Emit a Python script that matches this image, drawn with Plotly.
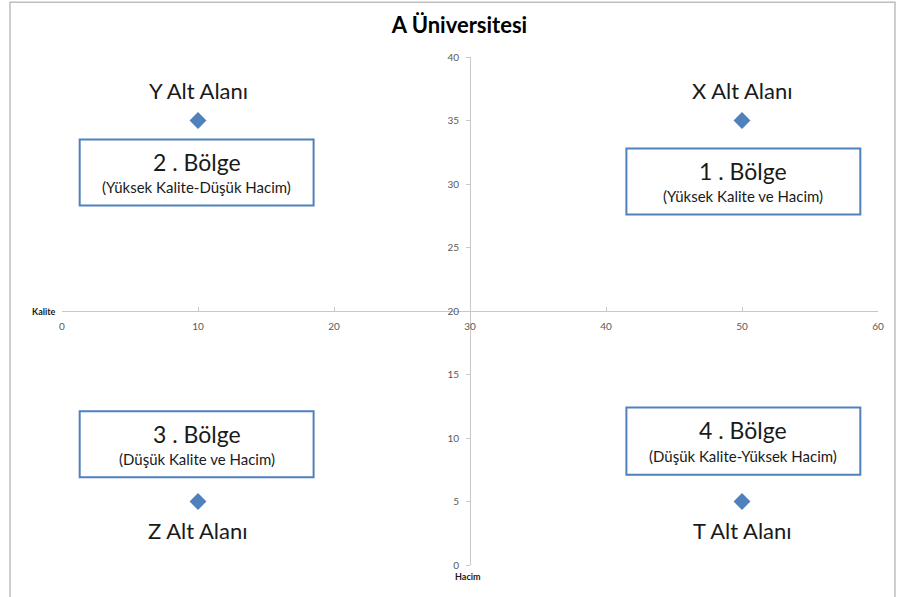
import plotly.graph_objects as go

# Data
point_x = [10, 50, 10, 50]
point_y = [35, 35, 5, 5]
area_names = ["Y Alt Alanı", "X Alt Alanı", "Z Alt Alanı", "T Alt Alanı"]
area_label_y = [37.4, 37.4, 2.75, 2.75]

region_titles = ["2 . Bölge", "1 . Bölge", "3 . Bölge", "4 . Bölge"]
region_subtitles = ["(Yüksek Kalite-Düşük Hacim)", "(Yüksek Kalite ve Hacim)",
                    "(Düşük Kalite ve Hacim)", "(Düşük Kalite-Yüksek Hacim)"]
region_box_x = [(1.3, 18.5), (41.5, 58.7), (1.3, 18.5), (41.5, 58.7)]
region_box_y = [(28.3, 33.5), (27.6, 32.8), (6.9, 12.1), (7.1, 12.4)]

x_ticks = [0, 10, 20, 30, 40, 50, 60]
y_ticks = [0, 5, 10, 15, 20, 25, 30, 35, 40]

FONT = "Lato"
BLUE = "#4F81BD"
TXT = "#1a1a1a"

fig = go.Figure()
fig.add_trace(go.Scatter(
    x=point_x, y=point_y, mode="markers",
    marker=dict(symbol="diamond", size=13, color=BLUE),
    showlegend=False, hoverinfo="skip"))

annotations = []
shapes = []
for i in range(4):
    cx = point_x[i]
    annotations.append(dict(x=cx, y=area_label_y[i], xref="x", yref="y",
                            text=area_names[i], showarrow=False,
                            font=dict(family=FONT, size=22, color=TXT)))
    x0, x1 = region_box_x[i]
    y0, y1 = region_box_y[i]
    shapes.append(dict(type="rect", xref="x", yref="y", x0=x0, x1=x1, y0=y0, y1=y1,
                       line=dict(color=BLUE, width=2), fillcolor="white", layer="above"))
    h = y1 - y0
    annotations.append(dict(x=(x0 + x1) / 2, y=y0 + h * 0.66, xref="x", yref="y",
                            text=region_titles[i], showarrow=False,
                            font=dict(family=FONT, size=23, color=TXT)))
    annotations.append(dict(x=(x0 + x1) / 2, y=y0 + h * 0.28, xref="x", yref="y",
                            text=region_subtitles[i], showarrow=False,
                            font=dict(family=FONT, size=15, color=TXT)))

# Axis titles
annotations.append(dict(x=0, y=20, xref="x", yref="y", xanchor="right", yanchor="middle",
                        xshift=-4, text="<b>Kalite</b>", showarrow=False,
                        font=dict(family=FONT, size=9, color=TXT)))
annotations.append(dict(x=30, y=0, xref="x", yref="y", xanchor="left", yanchor="top",
                        yshift=-4, xshift=-17, text="<b>Hacim</b>", showarrow=False,
                        font=dict(family=FONT, size=9, color=TXT)))

# outer chart border
shapes.append(dict(type="rect", xref="paper", yref="paper", x0=-0.0637, x1=1.0208,
                   y0=-0.2, y1=1.108, line=dict(color="#bdbdbd", width=1.5),
                   fillcolor="rgba(0,0,0,0)", layer="below"))

fig.update_layout(
    width=901, height=597,
    margin=dict(l=62, r=23, t=57, b=32),
    paper_bgcolor="white", plot_bgcolor="white",
    title=dict(text="<b>A Üniversitesi</b>", x=0.51, xanchor="center", y=0.957,
               yanchor="middle", font=dict(family=FONT, size=22, color="#000000")),
    xaxis=dict(range=[0, 60], tickvals=x_ticks, showgrid=False, zeroline=False,
               showline=True, linecolor="#c8c8c8", linewidth=1,
               ticks="inside", ticklen=4, tickcolor="#c8c8c8",
               anchor="free", position=0.5, ticklabelstandoff=6,
               tickfont=dict(family=FONT, size=10, color="#595959")),
    yaxis=dict(range=[0, 40], tickvals=y_ticks, showgrid=False, zeroline=False,
               showline=True, linecolor="#c8c8c8", linewidth=1,
               ticks="outside", ticklen=4, tickcolor="#c8c8c8",
               anchor="free", position=0.5, ticklabelstandoff=5,
               tickfont=dict(family=FONT, size=10, color="#595959")),
    annotations=annotations, shapes=shapes,
)

fig.write_html("out.html")
